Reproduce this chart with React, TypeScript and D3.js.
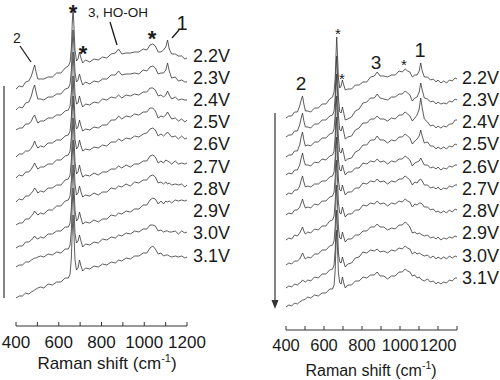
import React from 'react';
import * as d3 from 'd3';

// Raman shift grid (cm-1) shared by both panels (left panel uses up to 1200)
const ramanShift = [400, 415, 430, 445, 460, 472, 480, 487, 494, 502, 515, 530, 550, 570, 590, 610, 630, 645, 653, 659, 663, 667, 671, 676, 683, 690, 697, 704, 712, 725, 745, 765, 785, 805, 825, 845, 865, 880, 895, 915, 935, 955, 975, 995, 1012, 1027, 1040, 1052, 1065, 1078, 1090, 1101, 1109, 1117, 1128, 1145, 1160, 1175, 1190, 1200, 1215, 1230, 1245, 1260, 1275, 1290, 1300];

const voltageLabels = ['2.2V', '2.3V', '2.4V', '2.5V', '2.6V', '2.7V', '2.8V', '2.9V', '3.0V', '3.1V'];

// Left panel, stacked intensity (a.u., offsets included)
const left22 = [241,244,243,248,249,254,260,265,258,251,251,251,253,253,257,257,262,264,268,282,306,322,304,280,269,271,278,272,267,270,268,271,270,273,272,276,277,281,276,277,277,278,278,281,280,285,286,284,278,278,280,283,290,281,276,276,274,274,271,272];
const left23 = [220,223,222,227,228,234,241,245,238,231,231,230,233,233,236,236,241,242,246,260,284,300,282,258,248,250,256,250,245,248,246,249,248,251,251,255,255,259,255,256,256,257,256,260,259,263,264,262,256,257,257,260,267,259,252,253,249,250,248,248];
const left24 = [200,202,202,206,206,209,213,215,211,207,209,209,212,212,215,215,219,220,224,238,262,278,260,236,226,227,234,228,223,226,225,228,227,231,230,233,232,235,232,235,234,236,235,238,238,242,242,240,234,235,233,235,239,235,231,233,230,231,230,230];
const left25 = [173,176,176,179,179,182,185,189,185,182,184,183,187,187,190,190,194,195,199,213,237,254,235,211,201,203,210,204,199,201,200,203,202,205,205,210,210,214,211,214,213,216,215,218,218,222,222,219,212,214,213,215,218,215,211,212,209,211,208,210];
const left26 = [152,155,154,158,158,161,164,167,164,161,163,163,166,166,170,170,174,175,179,193,218,234,216,191,181,183,190,184,179,181,180,183,182,185,184,188,188,191,189,192,191,194,193,196,197,201,202,200,194,196,194,196,198,196,193,194,191,194,191,192];
const left27 = [128,131,130,134,134,137,139,142,140,137,139,138,142,142,145,145,150,151,155,170,196,212,194,168,156,158,165,158,153,155,154,157,155,158,158,161,161,164,162,165,163,166,166,169,169,174,175,173,167,169,167,170,169,168,166,169,166,167,166,167];
const left28 = [105,107,107,111,111,114,116,119,117,115,117,116,120,120,124,124,129,130,134,149,174,190,172,146,135,137,144,138,133,135,134,137,135,138,138,142,141,144,143,146,144,148,147,150,150,154,155,153,147,148,146,148,146,147,145,146,145,146,143,145];
const left29 = [82,84,84,88,88,90,92,94,92,91,93,92,96,96,99,99,103,103,107,122,148,165,146,120,109,111,118,112,106,108,107,110,108,111,111,115,114,117,116,119,118,121,121,125,125,130,132,131,126,129,126,129,128,129,127,130,129,130,129,130];
const left30 = [63,65,65,68,68,70,71,72,72,73,74,73,76,75,78,77,81,81,85,100,125,142,123,97,87,89,95,89,83,86,85,88,87,91,90,93,92,95,94,97,96,99,98,101,101,105,105,104,99,100,98,99,99,98,98,99,96,99,97,98];
const left31 = [32,34,34,37,36,38,39,40,41,42,43,42,46,45,48,48,52,52,56,72,98,115,96,70,60,62,70,64,59,62,61,64,63,66,65,68,67,70,69,72,71,74,74,77,77,82,84,81,76,77,74,75,75,74,73,74,73,74,72,73];

// Right panel, stacked intensity (a.u., offsets included)
const right22 = [212,214,214,218,218,224,230,234,226,219,219,218,222,222,226,226,231,233,238,252,275,293,275,252,242,244,250,245,240,241,241,245,245,248,248,253,254,258,254,254,253,255,255,259,258,261,259,258,253,255,255,259,267,259,253,253,250,251,248,250,247,249,247,250,249,252,251];
const right23 = [193,195,195,199,199,205,212,217,209,203,203,202,206,206,210,210,214,215,219,234,258,274,256,232,218,217,223,217,210,211,213,219,221,227,228,232,232,236,232,231,230,233,233,236,236,239,237,235,229,232,233,238,247,240,232,231,228,229,226,228,226,227,226,229,228,231,230];
const right24 = [173,175,175,179,179,185,193,198,190,184,185,184,188,188,192,192,196,197,201,216,240,256,238,214,200,199,204,198,191,193,194,200,202,207,207,211,211,214,211,211,209,212,211,215,215,218,216,214,209,212,215,221,232,222,211,208,204,205,202,204,202,204,203,206,206,210,210];
const right25 = [155,157,156,160,160,165,172,177,170,165,165,164,168,167,171,170,174,175,179,194,218,234,216,192,178,177,182,176,169,171,172,178,180,185,185,190,190,194,190,190,187,190,189,193,193,196,194,192,186,189,191,194,200,194,187,188,184,184,181,183,181,183,181,184,183,186,185];
const right26 = [135,137,136,140,140,144,150,154,148,143,144,143,146,146,149,149,153,154,158,173,197,213,195,170,160,159,165,160,155,158,158,162,162,167,166,169,168,171,168,169,166,169,168,171,171,174,172,170,164,167,168,169,172,169,165,165,162,163,161,163,160,162,161,164,163,165,165];
const right27 = [115,117,116,120,120,123,127,131,126,122,123,122,126,125,129,129,133,134,138,153,177,193,175,150,140,139,145,140,135,138,138,142,142,147,146,149,148,151,148,149,146,149,148,151,151,154,152,150,145,148,147,150,151,149,145,145,142,143,141,143,140,142,141,144,143,145,145];
const right28 = [90,92,91,95,94,97,100,103,99,96,98,97,101,100,104,104,109,110,114,129,153,170,152,127,117,116,123,118,113,116,116,120,120,125,124,127,126,129,126,127,124,127,126,129,128,131,129,128,123,126,125,127,127,126,123,123,120,121,118,119,117,119,117,120,118,121,120];
const right29 = [65,67,66,69,69,71,74,77,74,71,73,72,76,76,80,80,84,85,89,104,128,145,127,102,92,91,98,93,88,91,91,95,95,99,99,103,103,106,103,103,100,102,101,105,105,108,106,103,97,98,96,97,96,95,94,95,92,93,91,93,90,92,91,93,92,94,93];
const right30 = [42,44,43,46,45,47,48,50,49,48,50,49,53,52,56,56,60,61,65,80,104,120,102,77,68,67,73,68,63,66,67,72,73,78,77,80,79,81,78,79,77,80,79,82,81,84,82,81,76,78,76,77,76,75,74,75,72,74,71,73,71,73,71,74,72,74,73];
const right31 = [23,25,24,27,26,28,29,30,30,31,33,32,35,34,37,37,41,41,45,60,84,100,82,57,47,46,53,47,42,45,45,49,49,53,52,55,55,58,54,54,51,54,54,58,58,61,59,58,54,55,52,53,51,50,49,51,48,49,46,48,46,48,47,50,49,52,52];

const leftSpectra = [left22, left23, left24, left25, left26, left27, left28, left29, left30, left31];
const rightSpectra = [right22, right23, right24, right25, right26, right27, right28, right29, right30, right31];

const tickLabels = [400, 600, 800, 1000, 1200];
const leftTicks = [400, 500, 600, 700, 800, 900, 1000, 1100, 1200];
const rightTicks = [400, 500, 600, 700, 800, 900, 1000, 1100, 1200, 1300];

const FONT = '"Liberation Sans", Arial, Helvetica, sans-serif';
const INK = '#1a1a1a';

export default function App() {
  const xL = d3.scaleLinear().domain([400, 1200]).range([16, 187]);
  const xR = d3.scaleLinear().domain([400, 1300]).range([286, 457]);
  const y = d3.scaleLinear().domain([0, 330]).range([330, 0]);
  const labelYL = d3.scaleLinear().domain([0, 9]).range([61.5, 261.5]);
  const labelYR = d3.scaleLinear().domain([0, 9]).range([83.5, 284]);

  const makeLine = (xs: d3.ScaleLinear<number, number>) =>
    d3
      .line<number>()
      .defined((_, i) => ramanShift[i] !== undefined)
      .x((_, i) => xs(ramanShift[i]))
      .y((d) => y(d));

  const lineL = makeLine(xL);
  const lineR = makeLine(xR);

  const axisY_L = 326;
  const axisY_R = 330;
  const curveColor = '#333';
  const curveWidth = 0.8;

  return (
    <svg
      width={500}
      height={380}
      style={{ position: 'absolute', left: 0, top: 0, background: '#fff' }}
      fontFamily={FONT}
    >
      <rect x={0} y={0} width={500} height={380} fill="#fff" />

      {/* LEFT PANEL */}
      <line x1={4} x2={4} y1={86} y2={298} stroke="#333" strokeWidth={1.2} />
      {leftSpectra.map((s, i) => (
        <path key={'l' + i} d={lineL(s) || ''} fill="none" stroke={curveColor} strokeWidth={curveWidth} strokeLinejoin="round" />
      ))}
      {voltageLabels.map((v, i) => (
        <text key={'lv' + i} x={193} y={labelYL(i)} fontSize={18} fill={INK}>{v}</text>
      ))}
      {/* annotations left */}
      <text x={73} y={20} fontSize={22} fontWeight="bold" textAnchor="middle" fill={INK}>*</text>
      <text x={83} y={61} fontSize={22} fontWeight="bold" textAnchor="middle" fill={INK}>*</text>
      <text x={152} y={46} fontSize={22} fontWeight="bold" textAnchor="middle" fill={INK}>*</text>
      <text x={17} y={43} fontSize={14} textAnchor="middle" fill={INK}>2</text>
      <line x1={20} y1={46} x2={31} y2={62} stroke={INK} strokeWidth={1.3} />
      <text x={88} y={17} fontSize={13.5} fill={INK}>3, HO-OH</text>
      <line x1={110} y1={22} x2={117} y2={45} stroke={INK} strokeWidth={1.3} />
      <text x={182} y={30} fontSize={20} textAnchor="middle" fill={INK}>1</text>
      <line x1={179} y1={30} x2={172} y2={38} stroke={INK} strokeWidth={1.3} />

      {/* left axis */}
      <line x1={xL(400)} x2={xL(1200)} y1={axisY_L} y2={axisY_L} stroke="#333" strokeWidth={1} />
      {leftTicks.map((t) => (
        <line key={'lt' + t} x1={xL(t)} x2={xL(t)} y1={axisY_L} y2={axisY_L - 4} stroke="#333" strokeWidth={1} />
      ))}
      {tickLabels.map((t) => (
        <text key={'ltl' + t} x={xL(t)} y={348} fontSize={17} textAnchor="middle" fill={INK}>{t}</text>
      ))}
      <text x={107} y={369} fontSize={17} textAnchor="middle" fill={INK}>
        Raman shift (cm<tspan fontSize={11} dy={-7}>-1</tspan><tspan dy={7}>)</tspan>
      </text>

      {/* RIGHT PANEL */}
      <line x1={275} x2={275} y1={113} y2={302} stroke="#333" strokeWidth={1.2} />
      <path d="M271.5,300 L278.5,300 L275,309 Z" fill="#333" />
      {rightSpectra.map((s, i) => (
        <path key={'r' + i} d={lineR(s) || ''} fill="none" stroke={curveColor} strokeWidth={curveWidth} strokeLinejoin="round" />
      ))}
      {voltageLabels.map((v, i) => (
        <text key={'rv' + i} x={462} y={labelYR(i)} fontSize={18} fill={INK}>{v}</text>
      ))}
      <text x={338} y={39} fontSize={15} textAnchor="middle" fill={INK}>*</text>
      <text x={342} y={84} fontSize={15} textAnchor="middle" fill={INK}>*</text>
      <text x={404} y={70} fontSize={15} textAnchor="middle" fill={INK}>*</text>
      <text x={301} y={90} fontSize={19} textAnchor="middle" fill={INK}>2</text>
      <text x={376} y={69} fontSize={19} textAnchor="middle" fill={INK}>3</text>
      <text x={420} y={57} fontSize={20} textAnchor="middle" fill={INK}>1</text>

      {/* right axis */}
      <line x1={xR(400)} x2={xR(1300)} y1={axisY_R} y2={axisY_R} stroke="#333" strokeWidth={1} />
      {rightTicks.map((t) => (
        <line key={'rt' + t} x1={xR(t)} x2={xR(t)} y1={axisY_R} y2={axisY_R - 4} stroke="#333" strokeWidth={1} />
      ))}
      {tickLabels.map((t) => (
        <text key={'rtl' + t} x={xR(t)} y={351} fontSize={16.5} textAnchor="middle" fill={INK}>{t}</text>
      ))}
      <text x={371} y={376} fontSize={16} textAnchor="middle" fill={INK}>
        Raman shift (cm<tspan fontSize={10.5} dy={-7}>-1</tspan><tspan dy={7}>)</tspan>
      </text>
    </svg>
  );
}
